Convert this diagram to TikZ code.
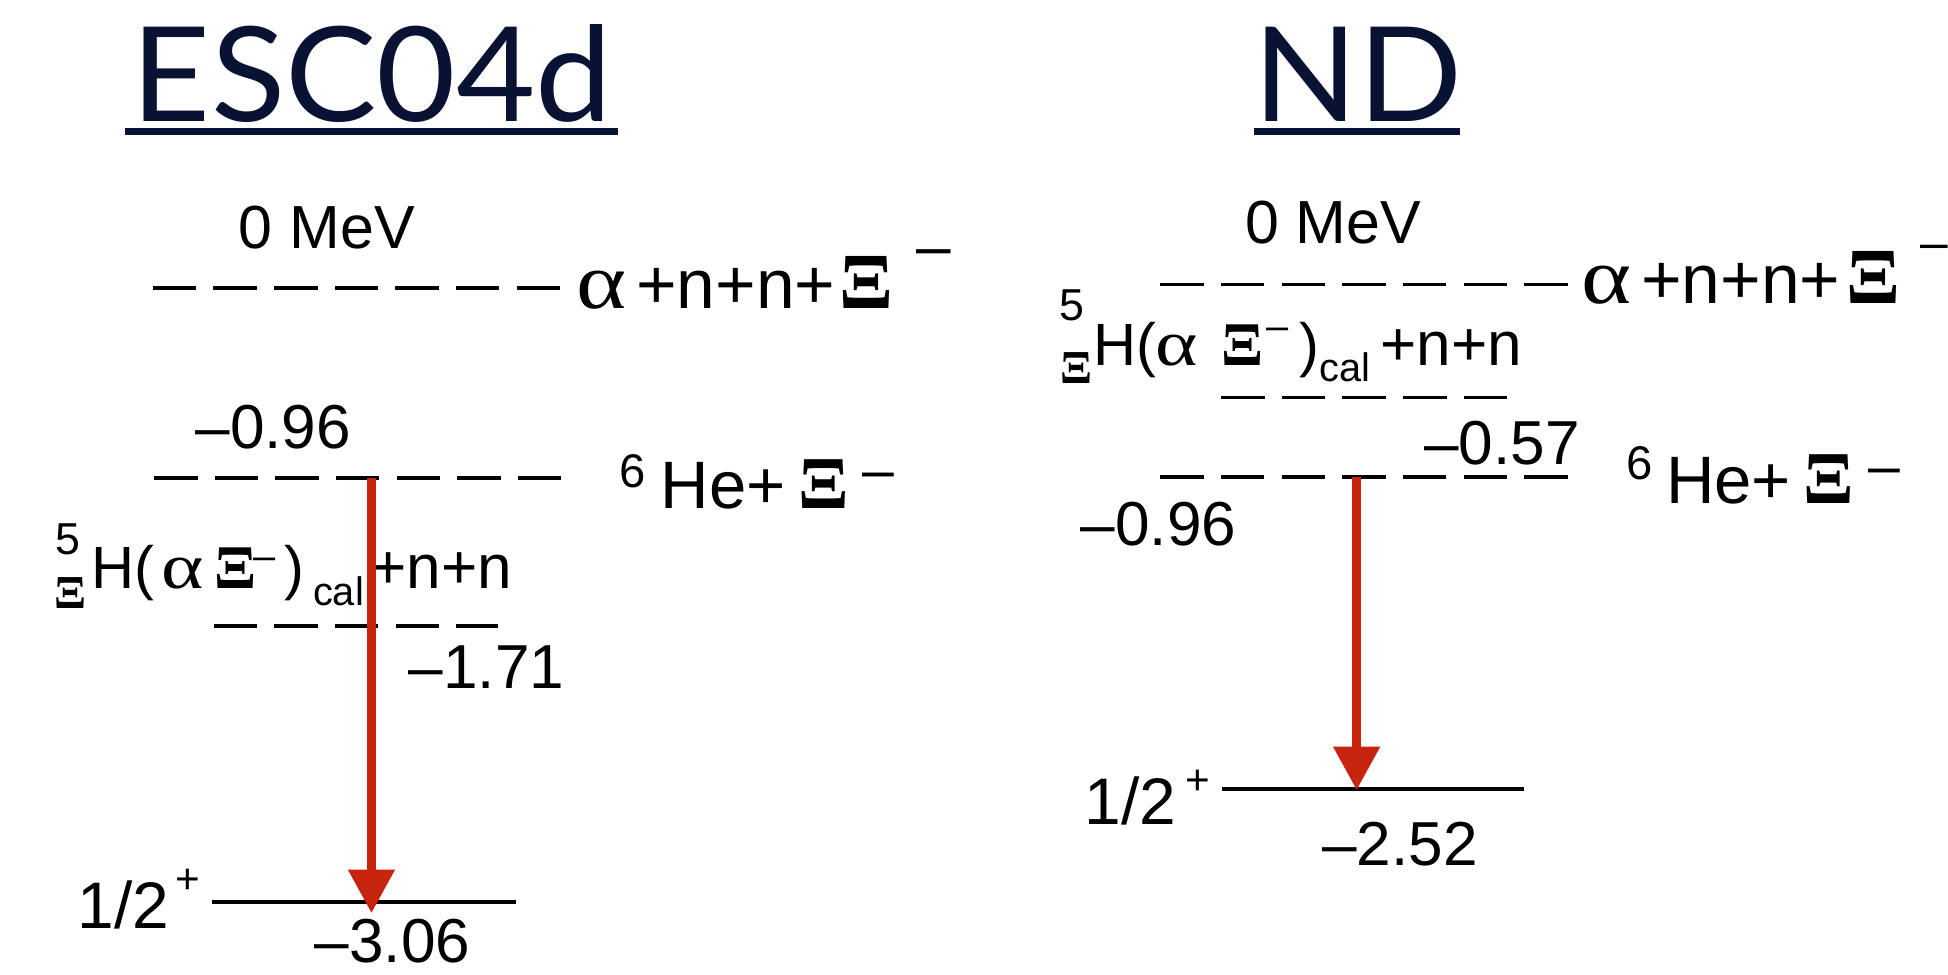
\documentclass[tikz,border=0pt]{standalone}
\usepackage{fontspec}
\setmainfont{Liberation Sans}
\newfontfamily\serifgr{Liberation Serif}
\newfontfamily\titlefont{Lato}
\usetikzlibrary{arrows.meta}
\newcommand\myfs[1]{\fontsize{#1}{#1}\selectfont}
\newcommand\wide[2]{\scalebox{#1}[1]{#2}}
\definecolor{navy}{RGB}{8,18,50}
\definecolor{arrowred}{RGB}{198,36,12}
\tikzset{
  txt/.style={inner sep=0pt, outer sep=0pt, anchor=base west},
  ctxt/.style={inner sep=0pt, outer sep=0pt, anchor=base},
  ttl/.style={inner sep=0pt, outer sep=0pt, anchor=base, font=\titlefont\myfs{53}, text=navy},
  uline/.style={navy, line width=2.75pt},
  dashline/.style={line width=1.5pt, dash pattern=on 17.5pt off 6.9pt},
  solidline/.style={line width=1.6pt},
  redarrow/.style={arrowred, line width=3.5pt, -{Triangle[length=17.5pt,width=18pt]}},
  num/.style={ctxt, font=\myfs{25}},
}
\begin{document}
\begin{tikzpicture}[x=0.5pt,y=-0.5pt]
\useasboundingbox (0,0) rectangle (1568,784);
\clip (0,0) rectangle (1568,784);
\fill[white] (0,0) rectangle (1568,784);

% titles
\node[ttl] (tL) at (299.5,98) {\wide{1.04}{ESC04d}};
\draw[uline] (100.6,106) -- (497.5,106);
\node[ttl] (tR) at (1093,98) {\wide{1.04}{ND}};
\draw[uline] (1009,106) -- (1175,106);

% ---------- left diagram ----------
\node[ctxt, font=\myfs{24.5}] (m0L) at (263,200) {0 MeV};
\draw[dashline] (123,232) -- (451,232);
\node[txt, font=\serifgr\myfs{32}] (aL1) at (464,248) {\wide{1.2}{α}};
\node[txt, font=\myfs{28}] (aL2) at (512,248) {+n+n+};
\node[txt, font=\serifgr\bfseries\myfs{32}] (aL3) at (676,248) {Ξ};
\node[ctxt, font=\myfs{25}] (aL4) at (752,215) {–};

\node[num] (nL1) at (220,361) {–0.96};
\draw[dashline] (124,385) -- (452,385);
\node[txt, font=\myfs{19}] (hL1) at (499,392) {6};
\node[txt, font=\myfs{27}] (hL2) at (532,409) {He+};
\node[txt, font=\serifgr\bfseries\myfs{30}] (hL3) at (643,409) {Ξ};
\node[ctxt, font=\myfs{23}] (hL4) at (707,394) {–};

\node[txt, font=\myfs{18}] (cL1) at (45,446) {5};
\node[txt, font=\serifgr\bfseries\myfs{19}] (cL2) at (44,490) {Ξ};
\node[txt, font=\myfs{24}] (cL3) at (74,474) {H(};
\node[txt, font=\serifgr\myfs{26}] (cL4) at (130,474) {\wide{1.25}{α}};
\node[txt, font=\serifgr\bfseries\myfs{25}] (cL5) at (173,474) {Ξ};
\node[ctxt, font=\myfs{16}] (cL6) at (213,458) {–};
\node[txt, font=\myfs{24}] (cL7) at (229,474) {)};
\node[txt, font=\myfs{16}] (cL8) at (252,487) {cal};
\node[txt, font=\myfs{25}] (cL9) at (298,474) {+n+n};
\draw[dashline] (172,504) -- (401,504);
\node[num] (nL2) at (391.5,554) {–1.71};

\node[ctxt, font=\myfs{26.5}] (jL1) at (99.5,747) {1/2};
\node[inner sep=0pt, font=\myfs{17}] (jL2) at (151,709) {+};
\draw[solidline] (171,726) -- (415,726);
\node[num] (nL3) at (316,775) {–3.06};

\coordinate (arLs) at (299,385);
\coordinate (arLe) at (299,735);
\draw[redarrow] (arLs) -- (arLe);

% ---------- right diagram ----------
\node[ctxt, font=\myfs{24.5}] (m0R) at (1073,196) {0 MeV};
\draw[dashline] (934,229) -- (1262,229);
\node[txt, font=\serifgr\myfs{32}] (aR1) at (1273,244) {\wide{1.2}{α}};
\node[txt, font=\myfs{28}] (aR2) at (1321,244) {+n+n+};
\node[txt, font=\serifgr\bfseries\myfs{32}] (aR3) at (1486,244) {Ξ};
\node[ctxt, font=\myfs{20}] (aR4) at (1557,209) {–};

\node[txt, font=\myfs{18}] (cR1) at (853,258) {5};
\node[txt, font=\serifgr\bfseries\myfs{19}] (cR2) at (854,309) {Ξ};
\node[txt, font=\myfs{24}] (cR3) at (880,294) {H(};
\node[txt, font=\serifgr\myfs{26}] (cR4) at (930,294) {\wide{1.25}{α}};
\node[txt, font=\serifgr\bfseries\myfs{25}] (cR5) at (983,294) {Ξ};
\node[ctxt, font=\myfs{16}] (cR6) at (1028.5,273) {–};
\node[txt, font=\myfs{24}] (cR7) at (1046,294) {)};
\node[txt, font=\myfs{16}] (cR8) at (1062,307) {cal};
\node[txt, font=\myfs{25}] (cR9) at (1111,294) {+n+n};
\draw[dashline] (983,320) -- (1213,320);

\node[num] (nR1) at (1209,374) {–0.57};
\draw[dashline] (934,384) -- (1263,384);
\node[txt, font=\myfs{19}] (hR1) at (1309,386) {6};
\node[txt, font=\myfs{27}] (hR2) at (1341,405) {He+};
\node[txt, font=\serifgr\bfseries\myfs{30}] (hR3) at (1452,405) {Ξ};
\node[ctxt, font=\myfs{23}] (hR4) at (1516.5,391) {–};
\node[num] (nR2) at (932.5,439) {–0.96};

\node[ctxt, font=\myfs{26.5}] (jR1) at (910,664) {1/2};
\node[inner sep=0pt, font=\myfs{17}] (jR2) at (964,630) {+};
\draw[solidline] (984,635) -- (1227,635);
\node[num] (nR3) at (1127,697) {–2.52};

\coordinate (arRs) at (1092,384);
\coordinate (arRe) at (1092,636);
\draw[redarrow] (arRs) -- (arRe);
\end{tikzpicture}
\end{document}
